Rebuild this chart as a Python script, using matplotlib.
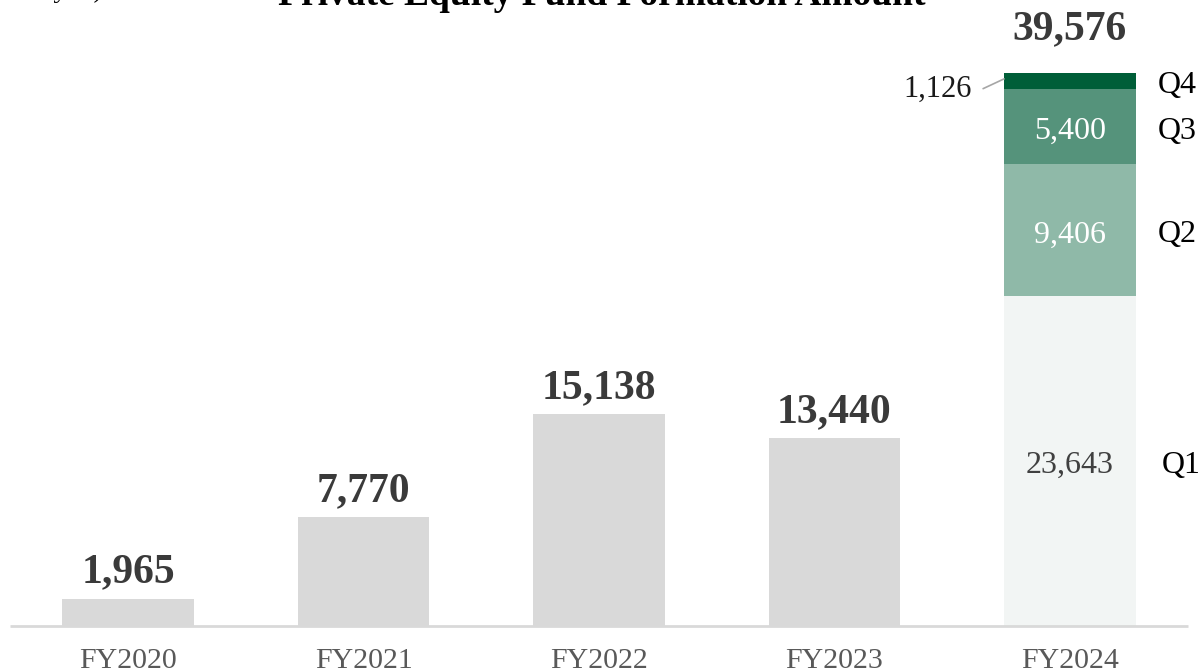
import matplotlib
matplotlib.use("Agg")
import matplotlib.pyplot as plt

plt.rcParams["font.family"] = ["Liberation Serif", "DejaVu Serif"]

years = ["FY2020", "FY2021", "FY2022", "FY2023", "FY2024"]
totals = [1965, 7770, 15138, 13440, 39576]
q_names = ["Q1", "Q2", "Q3", "Q4"]
q_values = [23643, 9406, 5400, 1126]
q_colors = ["#f2f5f4", "#8fb9a8", "#55937b", "#005e38"]
q_text = ["#404040", "white", "white", "#1a1a1a"]

fig = plt.figure(figsize=(12, 6.71), dpi=100)
ax = fig.add_axes([0, 0, 1, 1])

# pixel layout: bar centres 235.5 px apart, baseline 45 px above the bottom
px_x = 235.5
xmin = -128 / px_x
ax.set_xlim(xmin, xmin + 1200 / px_x)
unit_per_px = 39576 / 553
ymin = -45 * unit_per_px
ax.set_ylim(ymin, ymin + 671 * unit_per_px)
ax.axis("off")

width = 0.56
xs = list(range(len(years)))
nudge = 5 * unit_per_px  # drop centred labels a few px to sit on the glyph middle

# FY2020-FY2023 plain grey bars
for x, v in zip(xs[:-1], totals[:-1]):
    ax.bar(x, v, width=width, color="#d9d9d9", linewidth=0)
    ax.annotate(f"{v:,}", (x, v), xytext=(0, 5), textcoords="offset points",
                ha="center", va="bottom", fontsize=30, fontweight="bold",
                color="#3a3a3a")

# FY2024 stacked by quarter
x4 = xs[-1]
bottom = 0
q_label_x = xmin + 1158 / px_x
for i, (name, v, c, tc) in enumerate(zip(q_names, q_values, q_colors, q_text)):
    ax.bar(x4, v, width=width, bottom=bottom, color=c, linewidth=0)
    mid = bottom + v / 2
    if name == "Q4":
        ax.annotate(f"{v:,}", xy=(x4 - width / 2, mid + 2 * unit_per_px),
                    xytext=(xmin + 972 / px_x, mid - 8 * unit_per_px),
                    ha="right", va="center", fontsize=22, color=tc,
                    arrowprops=dict(arrowstyle="-", color="#a6a6a6", lw=1.2,
                                    shrinkA=6, shrinkB=0,
                                    connectionstyle="angle,angleA=0,angleB=25,rad=0"))
    else:
        ax.text(x4, mid - nudge, f"{v:,}", ha="center", va="center",
                fontsize=23, color=tc)
    ax.text(q_label_x + (4 / px_x if name == "Q1" else 0), mid - nudge, name,
            ha="left", va="center", fontsize=23, color="black")
    bottom += v

ax.annotate(f"{totals[-1]:,}", (x4, totals[-1]), xytext=(0, 18),
            textcoords="offset points", ha="center", va="bottom",
            fontsize=30, fontweight="bold", color="#3a3a3a")

# baseline
ax.plot([xmin + 10 / px_x, xmin + 1188 / px_x], [0, 0], color="#d9d9d9", lw=2,
        solid_capstyle="butt")

for x, name in zip(xs, years):
    ax.text(x, -35 * unit_per_px, name, ha="center", va="center",
            fontsize=21.5, color="#595959")

fig.text(0.5017, 1 - 5 / 671, "Private Equity Fund Formation Amount",
         ha="center", va="baseline", fontsize=27, fontweight="bold", color="black")
fig.text(103 / 1200, 1 + 3 / 671, "(Unit: 100 million yen)",
         ha="right", va="baseline", fontsize=20, color="black")

fig.savefig("out.png", dpi=100)
